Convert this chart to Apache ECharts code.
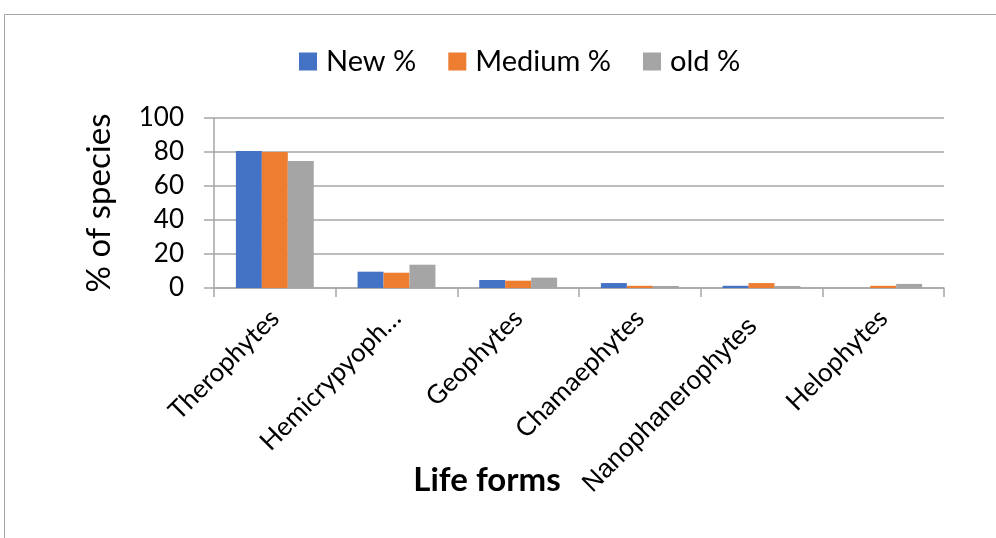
<!DOCTYPE html>
<html>
<head>
<meta charset="utf-8">
<script src="https://cdn.jsdelivr.net/npm/echarts@6/dist/echarts.min.js"></script>
<style>
  html, body { margin: 0; padding: 0; background: #fff; }
  #main { width: 996px; height: 538px; }
</style>
</head>
<body>
<div id="main"></div>
<script>
// 类别（横轴）
var lifeForms = ['Therophytes', 'Hemicrypyoph…', 'Geophytes', 'Chamaephytes', 'Nanophanerophytes', 'Helophytes'];
// 各系列数值
var newPct = [80.6, 9.6, 4.7, 2.9, 1.3, 0];
var mediumPct = [80, 9.0, 4.3, 1.3, 2.9, 1.3];
var oldPct = [74.7, 13.7, 6.1, 1.2, 1.2, 2.4];
// y轴刻度
var yMin = 0, yMax = 100, yStep = 20;

var chart = echarts.init(document.getElementById('main'));

var option = {
  animation: false,
  backgroundColor: '#fff',
  // 外框
  graphic: [{
    type: 'rect',
    shape: { x: 4.5, y: 14.5, width: 1100, height: 600 },
    style: { fill: 'none', stroke: '#a6a6a6', lineWidth: 1 }
  }],
  legend: {
    top: 42,
    left: 294,
    itemWidth: 18,
    itemHeight: 18,
    itemGap: 32,
    icon: 'rect',
    textStyle: { fontFamily: 'Lato', fontSize: 29, color: '#000', padding: [0, 0, 0, 4] },
    data: ['New %', 'Medium %', 'old %']
  },
  grid: { left: 214, right: 52, top: 118, bottom: 250 },
  xAxis: {
    type: 'category',
    data: lifeForms.map(function (n) {
      // 这个标签在原图里是另一种字体，位置也稍低
      if (n === 'Nanophanerophytes') {
        return { value: n, textStyle: { fontFamily: 'Liberation Sans', fontSize: 26, padding: [0, 12, 0, 0] } };
      }
      return n;
    }),
    name: 'Life forms',
    nameLocation: 'center',
    nameGap: 176,
    nameMoveOverlap: false,
    nameTextStyle: { fontFamily: 'Lato', fontWeight: 'bold', fontSize: 33, color: '#000', padding: [0, 184, 0, 0] },
    axisLine: { lineStyle: { color: '#a6a6a6', width: 1.5 } },
    axisTick: { show: true, length: 9, lineStyle: { color: '#a6a6a6', width: 1.5 } },
    axisLabel: {
      rotate: 45,
      interval: 0,
      margin: 26,
      fontFamily: 'Lato',
      fontSize: 26,
      color: '#000'
    }
  },
  yAxis: {
    type: 'value',
    min: yMin,
    max: yMax,
    interval: yStep,
    name: '% of species',
    nameLocation: 'center',
    nameGap: 98,
    nameRotate: 90,
    nameTextStyle: { fontFamily: 'Lato', fontSize: 33, color: '#000' },
    axisLine: { show: true, lineStyle: { color: '#a6a6a6', width: 1.5 } },
    axisTick: { show: true, length: 10, lineStyle: { color: '#a6a6a6', width: 1.5 } },
    axisLabel: { margin: 30, fontFamily: 'Lato', fontSize: 26, color: '#000' },
    splitLine: { lineStyle: { color: '#a6a6a6', width: 1.5 } }
  },
  series: [
    { name: 'New %', type: 'bar', data: newPct, barGap: '0%', barCategoryGap: '36%', itemStyle: { color: '#4472C4' } },
    { name: 'Medium %', type: 'bar', data: mediumPct, itemStyle: { color: '#ED7D31' } },
    { name: 'old %', type: 'bar', data: oldPct, itemStyle: { color: '#A5A5A5' } }
  ]
};

chart.setOption(option);
</script>
</body>
</html>
